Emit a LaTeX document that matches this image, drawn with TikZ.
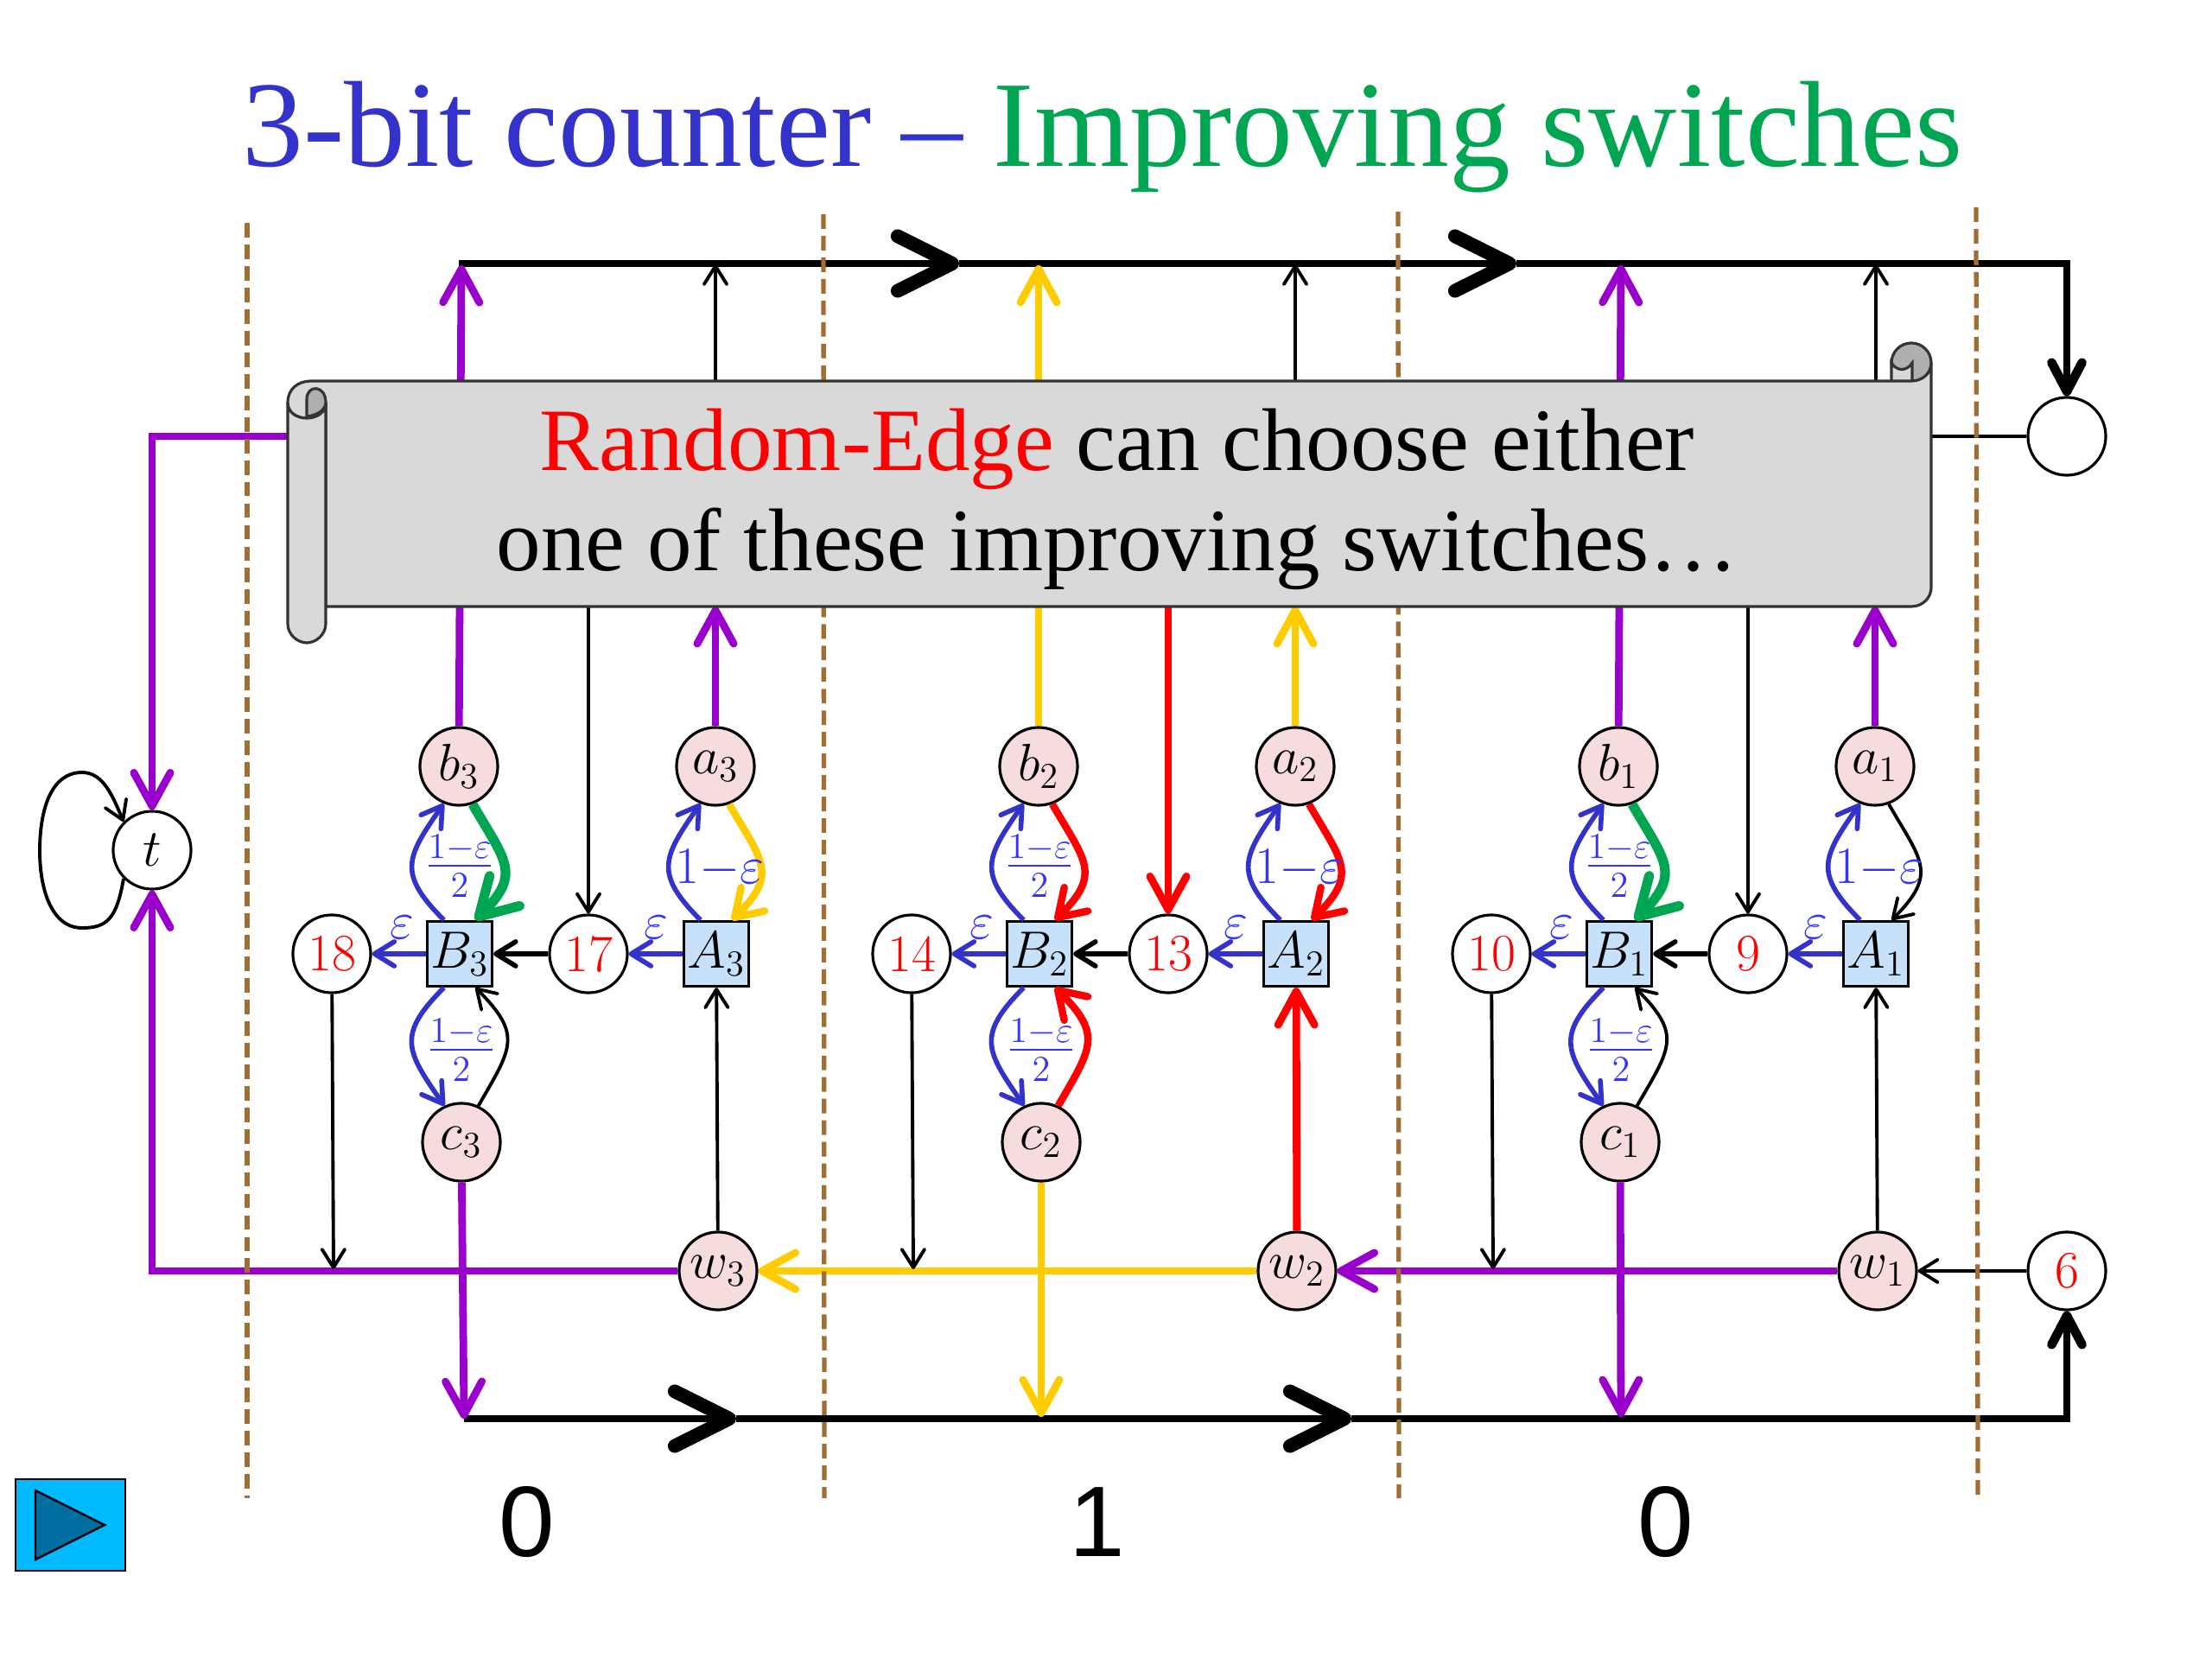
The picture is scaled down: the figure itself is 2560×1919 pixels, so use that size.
\documentclass[tikz,border=0pt]{standalone}
\usepackage{amsmath,amssymb}
\usepackage{fontspec}
\usepackage{tikz}
\usetikzlibrary{arrows.meta, calc}
\newfontfamily\slidefont{Liberation Serif}
\newfontfamily\bitfont{Liberation Sans}
\definecolor{cntblue}{RGB}{51,51,204}
\definecolor{lblblue}{RGB}{51,51,255}
\definecolor{cntgreen}{RGB}{0,166,81}
\definecolor{cntyellow}{RGB}{255,204,0}
\definecolor{cntpurple}{RGB}{153,0,204}
\definecolor{cntred}{RGB}{255,0,0}
\definecolor{cntbrown}{RGB}{160,110,50}
\definecolor{lightpink}{RGB}{246,220,220}
\definecolor{lightbox}{RGB}{200,225,250}
\definecolor{scrollgray}{RGB}{217,217,217}
\definecolor{curlgray}{RGB}{175,175,175}
\definecolor{btnblue}{RGB}{0,185,255}
\definecolor{btndark}{RGB}{0,110,160}

\begin{document}
\begin{tikzpicture}[
  x=0.01cm, y=0.01cm,
  every node/.style={font=\LARGE},
  vnode/.style={circle, draw, line width=0.9pt, minimum size=0.9cm, inner sep=0pt},
  pnode/.style={vnode, fill=lightpink},
  wnode/.style={vnode, fill=white},
  num/.style={wnode, text=cntred},
  gate/.style={rectangle, draw, line width=0.9pt, minimum size=0.75cm, inner sep=0pt, fill=lightbox},
  lbl/.style={text=lblblue, inner sep=0pt},
  thinarr/.style={line width=1.1pt, -{Straight Barb[length=6pt,width=7.5pt,round]}},
  medarr/.style={line width=1.6pt, -{Straight Barb[length=6.5pt,width=8pt,round]}},
  bluearr/.style={cntblue, line width=1.6pt, -{Straight Barb[length=6.5pt,width=8pt,round]}},
  curvearr/.style={line width=2.4pt, -{Straight Barb[length=8.5pt,width=11pt,round]}},
  greenarr/.style={cntgreen, line width=3.2pt, -{Straight Barb[length=12pt,width=14pt,round]}},
  bigarr/.style={line width=2.5pt, -{Straight Barb[length=11pt,width=12pt,round]}},
  busline/.style={line width=2.2pt},
  chev/.style={busline, -{Straight Barb[length=18pt,width=18pt,line width=4.5pt,round]}},
  busend/.style={busline, -{Straight Barb[length=9.5pt,width=10pt,line width=3pt,round]}},
  border/.style={cntbrown, line width=1.5pt, dash pattern=on 4.8pt off 2.3pt},
  rollline/.style={draw=black!80, line width=0.9pt},
  upl/.style={out=135, in=-125, looseness=1.45},
  upr/.style={out=-60, in=45, looseness=1.45},
  dnl/.style={out=-135, in=125, looseness=1.45},
  dnr/.style={out=60, in=-45, looseness=1.45}
]
  \useasboundingbox (0,0) rectangle (2560,-1919);
  \node[font=\fontsize{40.3}{44}\selectfont\slidefont, inner sep=0pt, anchor=base] (title) at (1276,-193)
    {\textcolor{cntblue}{3-bit counter – }\textcolor{cntgreen}{Improving switches}};
  % bit 3
  \node[pnode] (b3)  at (531,-887)  {$b_3$};
  \node[pnode] (a3)  at (828,-887)  {$a_3$};
  \node[num]   (n18) at (384,-1104) {18};
  \node[gate]  (B3)  at (532,-1104) {$B_3$};
  \node[num]   (n17) at (681,-1104) {17};
  \node[gate]  (A3)  at (829,-1104) {$A_3$};
  \node[pnode] (c3)  at (534,-1322) {$c_3$};
  \node[pnode] (w3)  at (831,-1471) {$w_3$};
  % bit 2
  \node[pnode] (b2)  at (1202,-887)  {$b_2$};
  \node[pnode] (a2)  at (1499,-887)  {$a_2$};
  \node[num]   (n14) at (1055,-1104) {14};
  \node[gate]  (B2)  at (1203,-1104) {$B_2$};
  \node[num]   (n13) at (1352,-1104) {13};
  \node[gate]  (A2)  at (1500,-1104) {$A_2$};
  \node[pnode] (c2)  at (1205,-1322) {$c_2$};
  \node[pnode] (w2)  at (1501,-1471) {$w_2$};
  % bit 1
  \node[pnode] (b1)  at (1873,-887)  {$b_1$};
  \node[pnode] (a1)  at (2170,-887)  {$a_1$};
  \node[num]   (n10) at (1726,-1104) {10};
  \node[gate]  (B1)  at (1874,-1104) {$B_1$};
  \node[num]   (n9)  at (2023,-1104) {9};
  \node[gate]  (A1)  at (2171,-1104) {$A_1$};
  \node[pnode] (c1)  at (1875,-1322) {$c_1$};
  \node[pnode] (w1)  at (2173,-1471) {$w_1$};
  % ends
  \node[wnode] (t)    at (176,-984)   {$t$};
  \node[wnode] (cir)  at (2392,-505)  {};
  \node[num]   (n6)   at (2392,-1471) {6};
  % free ends
  \coordinate (tl0) at (531,-305);   \coordinate (tl1) at (1110,-305);
  \coordinate (tl2) at (1755,-305);  \coordinate (tl3) at (2392,-305);
  \coordinate (bl0) at (537,-1642);  \coordinate (bl1) at (852,-1642);
  \coordinate (bl2) at (1564,-1642); \coordinate (bl3) at (2392,-1642);
  \coordinate (up3) at (534,-307);   \coordinate (up2) at (1202,-307);
  \coordinate (up1) at (1876,-307);
  \coordinate (sb3) at (828,-702);   \coordinate (sb2) at (1499,-702);
  \coordinate (sb1) at (2170,-702);
  \coordinate (st3) at (828,-500);   \coordinate (tt3) at (828,-306);
  \coordinate (st2) at (1499,-500);  \coordinate (tt2) at (1499,-306);
  \coordinate (st1) at (2171,-500);  \coordinate (tt1) at (2171,-306);
  \coordinate (sd3) at (681,-650);   \coordinate (sd2) at (1352,-650);
  \coordinate (sd1) at (2023,-650);
  \coordinate (dn3) at (537,-1642);  \coordinate (dn2) at (1205,-1640);
  \coordinate (dn1) at (1876,-1640);
  \coordinate (lw3) at (386,-1469);  \coordinate (lw2) at (1057,-1469);
  \coordinate (lw1) at (1728,-1469);
  \coordinate (cl1) at (176,-505);   \coordinate (cl2) at (176,-1471);
  \coordinate (sl)  at (400,-505);   \coordinate (sr)  at (2200,-505);
  \coordinate (lpb) at (95,-1074);   \coordinate (lpl) at (46,-985);
  \coordinate (lpt) at (95,-894);
  % buses
  \draw[chev] (tl0) -- (tl1);
  \draw[chev] (tl1) -- (tl2);
  \draw[busend] (tl2) -- (tl3) -- (cir);
  \draw[chev] (bl0) -- (bl1);
  \draw[chev] (bl1) -- (bl2);
  \draw[busend] (bl2) -- (bl3) -- (n6);
  % long edges
  \draw[bigarr, cntpurple] (sl) -- (cl1) -- (t);
  \draw[bigarr, cntpurple] (w3) -- (cl2) -- (t);
  \draw[bigarr, cntyellow] (w2) -- (w3);
  \draw[bigarr, cntpurple] (w1) -- (w2);
  \draw[thinarr] (n6) -- (w1);
  \draw[line width=1.1pt] (sr) -- (cir);
  \draw[bigarr, cntpurple] (b3) -- (up3);
  \draw[bigarr, cntyellow] (b2) -- (up2);
  \draw[bigarr, cntpurple] (b1) -- (up1);
  \draw[bigarr, cntpurple] (a3) -- (sb3);
  \draw[bigarr, cntyellow] (a2) -- (sb2);
  \draw[bigarr, cntpurple] (a1) -- (sb1);
  \draw[thinarr] (st3) -- (tt3);
  \draw[thinarr] (st2) -- (tt2);
  \draw[thinarr] (st1) -- (tt1);
  \draw[thinarr] (sd3) -- (n17);
  \draw[bigarr, cntred] (sd2) -- (n13);
  \draw[thinarr] (sd1) -- (n9);
  \draw[thinarr] (w3) -- (A3);
  \draw[bigarr, cntred] (w2) -- (A2);
  \draw[thinarr] (w1) -- (A1);
  \draw[thinarr] (n18) -- (lw3);
  \draw[thinarr] (n14) -- (lw2);
  \draw[thinarr] (n10) -- (lw1);
  \draw[bigarr, cntpurple] (c3) -- (dn3);
  \draw[bigarr, cntyellow] (c2) -- (dn2);
  \draw[bigarr, cntpurple] (c1) -- (dn1);
  % row edges
  \draw[bluearr] (B3) -- (n18); \draw[medarr] (n17) -- (B3); \draw[bluearr] (A3) -- (n17);
  \draw[bluearr] (B2) -- (n14); \draw[medarr] (n13) -- (B2); \draw[bluearr] (A2) -- (n13);
  \draw[bluearr] (B1) -- (n10); \draw[medarr] (n9) -- (B1);  \draw[bluearr] (A1) -- (n9);
  % gadget curves
  \draw[bluearr] (B3.115) to[upl] (b3.-112);
  \draw[greenarr] (b3.-70) to[upr] (B3.65);
  \draw[bluearr] (B3.-115) to[dnl] (c3.115);
  \draw[thinarr] (c3.65) to[dnr] (B3.-65);
  \draw[bluearr] (A3.115) to[upl] (a3.-112);
  \draw[curvearr, cntyellow] (a3.-70) to[upr] (A3.65);
  \draw[bluearr] (B2.115) to[upl] (b2.-112);
  \draw[curvearr, cntred] (b2.-70) to[upr] (B2.65);
  \draw[bluearr] (B2.-115) to[dnl] (c2.115);
  \draw[curvearr, cntred] (c2.65) to[dnr] (B2.-65);
  \draw[bluearr] (A2.115) to[upl] (a2.-112);
  \draw[curvearr, cntred] (a2.-70) to[upr] (A2.65);
  \draw[bluearr] (B1.115) to[upl] (b1.-112);
  \draw[greenarr] (b1.-70) to[upr] (B1.65);
  \draw[bluearr] (B1.-115) to[dnl] (c1.115);
  \draw[thinarr] (c1.65) to[dnr] (B1.-65);
  \draw[bluearr] (A1.115) to[upl] (a1.-112);
  \draw[thinarr] (a1.-70) to[upr] (A1.65);
  \draw[thinarr] (t.225) .. controls +(-8,-45) and +(30,0) .. (lpb)
    .. controls +(-35,0) and +(0,-45) .. (lpl)
    .. controls +(0,50) and +(-35,0) .. (lpt)
    .. controls +(25,0) and +(-12,28) .. (t.135);
  % labels
  \node[lbl] (fb3) at (532,-1002)  {$\frac{1-\varepsilon}{2}$};
  \node[lbl] (fc3) at (534,-1215)  {$\frac{1-\varepsilon}{2}$};
  \node[lbl] (fa3) at (833,-1005)  {$1{-}\varepsilon$};
  \node[lbl] (eb3) at (465,-1073)  {$\varepsilon$};
  \node[lbl] (ea3) at (759,-1073)  {$\varepsilon$};
  \node[lbl] (fb2) at (1203,-1002) {$\frac{1-\varepsilon}{2}$};
  \node[lbl] (fc2) at (1205,-1215) {$\frac{1-\varepsilon}{2}$};
  \node[lbl] (fa2) at (1504,-1005) {$1{-}\varepsilon$};
  \node[lbl] (eb2) at (1136,-1073) {$\varepsilon$};
  \node[lbl] (ea2) at (1430,-1073) {$\varepsilon$};
  \node[lbl] (fb1) at (1874,-1002) {$\frac{1-\varepsilon}{2}$};
  \node[lbl] (fc1) at (1876,-1215) {$\frac{1-\varepsilon}{2}$};
  \node[lbl] (fa1) at (2175,-1005) {$1{-}\varepsilon$};
  \node[lbl] (eb1) at (1807,-1073) {$\varepsilon$};
  \node[lbl] (ea1) at (2101,-1073) {$\varepsilon$};
  % bit boundaries
  \draw[border] (286,-258) -- (286,-1734);
  \draw[border] (953,-248) -- (954,-1734);
  \draw[border] (1618,-245) -- (1619,-1734);
  \draw[border] (2287,-240) -- (2289,-1734);
  % scroll
  \fill[curlgray] (2212,-420) circle (23);
  \draw[rollline] (2212,-420) circle (23);
  \filldraw[rollline, fill=scrollgray] (2189,-445) -- (2189,-420) .. controls (2195,-430) and (2207,-430) .. (2213,-420) -- (2213,-445) -- cycle;
  \filldraw[rollline, fill=scrollgray]
    (333,-466) .. controls (333,-450) and (345,-441) .. (360,-441) -- (2212,-441)
    .. controls (2225,-441) and (2235,-432) .. (2235,-420) -- (2235,-680)
    .. controls (2235,-692) and (2225,-702) .. (2212,-702) -- (377,-702) -- (377,-466)
    .. controls (377,-490) and (333,-490) .. (333,-466) -- cycle;
  \filldraw[rollline, fill=scrollgray]
    (333,-466) -- (333,-722) .. controls (333,-735) and (345,-744) .. (355,-744)
    .. controls (365,-744) and (377,-735) .. (377,-722) -- (377,-466) .. controls (377,-490) and (333,-490) .. (333,-466) -- cycle;
  \filldraw[rollline, fill=curlgray] (355,-482) -- (355,-462) .. controls (355,-445) and (377,-445) .. (377,-466) .. controls (377,-474) and (367,-481) .. (355,-482) -- cycle;
  \node[font=\fontsize{29.3}{33}\selectfont\slidefont, align=center, inner sep=0pt] (msg) at (1293,-578)
    {\textcolor{cntred}{Random-Edge} can choose either\\one of these improving switches\dots};
  % bits and button
  \node[font=\fontsize{33}{36}\selectfont\bitfont, inner sep=0pt] (bit3) at (610,-1762)  {0};
  \node[font=\fontsize{33}{36}\selectfont\bitfont, inner sep=0pt] (bit2) at (1270,-1762) {1};
  \node[font=\fontsize{33}{36}\selectfont\bitfont, inner sep=0pt] (bit1) at (1928,-1762) {0};
  \filldraw[fill=btnblue, draw=black, line width=0.7pt] (18,-1712) rectangle (145,-1818);
  \filldraw[fill=btndark, draw=black, line width=0.7pt] (41,-1725) -- (121,-1765) -- (41,-1805) -- cycle;
\end{tikzpicture}
\end{document}
